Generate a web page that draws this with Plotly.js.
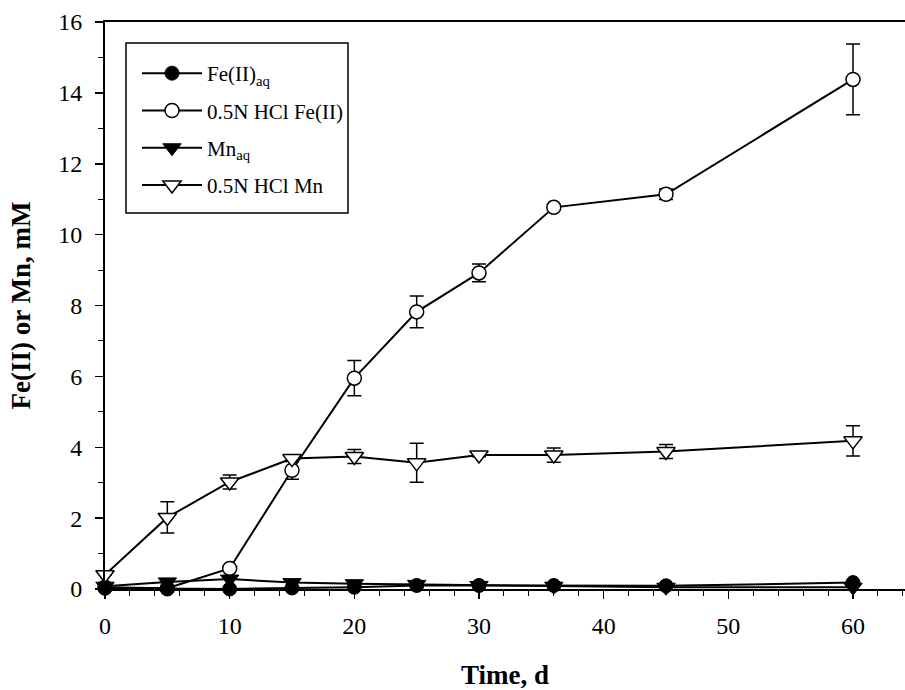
<!DOCTYPE html>
<html>
<head>
<meta charset="utf-8">
<script src="https://cdn.plot.ly/plotly-3.0.1.min.js"></script>
<style>html,body{margin:0;padding:0;overflow:hidden;background:#fff}</style>
</head>
<body>
<div id="chart" style="width:905px;height:690px"></div>
<script>
const days = [0, 5, 10, 15, 20, 25, 30, 36, 45, 60];
const feAq = [0.02, 0.0, 0.0, 0.03, 0.05, 0.1, 0.1, 0.1, 0.09, 0.18];
const feHcl = [0.05, 0.02, 0.58, 3.35, 5.95, 7.82, 8.92, 10.77, 11.14, 14.38];
const feHclErr = [0, 0, 0, 0.25, 0.5, 0.45, 0.25, 0.08, 0.15, 1.0];
const mnAq = [0.08, 0.2, 0.28, 0.18, 0.15, 0.13, 0.1, 0.08, 0.05, 0.05];
const mnHcl = [0.4, 2.02, 3.02, 3.68, 3.74, 3.56, 3.78, 3.78, 3.88, 4.18];
const mnHclErr = [0, 0.44, 0.2, 0.05, 0.2, 0.55, 0.05, 0.2, 0.2, 0.43];
const names = ['Fe(II)<sub>aq</sub>', '0.5N HCl Fe(II)', 'Mn<sub>aq</sub>', '0.5N HCl Mn'];

const lineStyle = {color: '#000', width: 2};
const traces = [
  {x: days, y: feHcl, name: names[1], legendgroup: 'b', legendrank: 2, type: 'scatter', mode: 'lines+markers', cliponaxis: false,
   line: lineStyle, marker: {symbol: 'circle', size: 14, color: '#fff', line: {color: '#000', width: 1.5}},
   error_y: {type: 'data', array: feHclErr, visible: true, color: '#000', thickness: 1.5, width: 7}},
  {x: days, y: mnHcl, name: names[3], legendgroup: 'd', legendrank: 4, type: 'scatter', mode: 'lines+markers', cliponaxis: false,
   line: lineStyle, marker: {symbol: 'triangle-down', size: 16, color: '#fff', line: {color: '#000', width: 1.5}},
   error_y: {type: 'data', array: mnHclErr, visible: true, color: '#000', thickness: 1.5, width: 7}},
  {x: days, y: mnAq, name: names[2], legendgroup: 'c', legendrank: 3, type: 'scatter', mode: 'lines+markers', cliponaxis: false,
   line: lineStyle, marker: {symbol: 'triangle-down', size: 16, color: '#000', line: {color: '#000', width: 1}}},
  {x: days, y: feAq, name: names[0], legendgroup: 'a', legendrank: 1, type: 'scatter', mode: 'lines+markers', cliponaxis: false,
   line: lineStyle, marker: {symbol: 'circle', size: 14, color: '#000', line: {color: '#000', width: 1}}}
];

const fam = '"Liberation Serif", "Times New Roman", serif';
const layout = {
  width: 905, height: 690,
  margin: {l: 105, r: 0, t: 22, b: 101},
  paper_bgcolor: '#fff', plot_bgcolor: '#fff',
  font: {family: fam, color: '#000', size: 24},
  showlegend: true,
  legend: {x: 0.04, y: 0.9453, xanchor: 'left', yanchor: 'top', bgcolor: 'rgba(0,0,0,0)',
    borderwidth: 0, font: {family: fam, size: 21, color: '#000'},
    itemwidth: 60, traceorder: 'grouped', tracegroupgap: 7},
  shapes: [{type: 'rect', xref: 'paper', yref: 'paper', x0: 0.02625, x1: 0.30375, y0: 0.6631, y1: 0.963,
    line: {color: '#000', width: 1.5}, fillcolor: '#fff', layer: 'below'}],
  xaxis: {range: [0, 64.17], tickvals: [0, 10, 20, 30, 40, 50, 60], ticks: 'outside', ticklen: 8, tickwidth: 1.5,
    tickcolor: '#000', showline: true, linecolor: '#000', linewidth: 2, mirror: true, showgrid: false, zeroline: false,
    minor: {dtick: 2, tick0: 0, ticks: 'outside', ticklen: 5, tickwidth: 1, tickcolor: '#000', showgrid: false},
    tickfont: {size: 24}, ticklabelstandoff: 6,
    title: {text: '<b>Time, d</b>', font: {size: 27}, standoff: 28}},
  yaxis: {range: [0, 16], dtick: 2, ticks: 'outside', ticklen: 8, tickwidth: 1.5, tickcolor: '#000',
    showline: true, linecolor: '#000', linewidth: 2, mirror: true, showgrid: false, zeroline: false,
    minor: {dtick: 1, ticks: 'outside', ticklen: 5, tickwidth: 1, tickcolor: '#000', showgrid: false},
    tickfont: {size: 24}, ticklabelstandoff: 8,
    title: {text: '<b>Fe(II) or Mn, mM</b>', font: {size: 27}, standoff: 20}}
};
Plotly.newPlot('chart', traces, layout, {displayModeBar: false, staticPlot: true});
</script>
</body>
</html>
